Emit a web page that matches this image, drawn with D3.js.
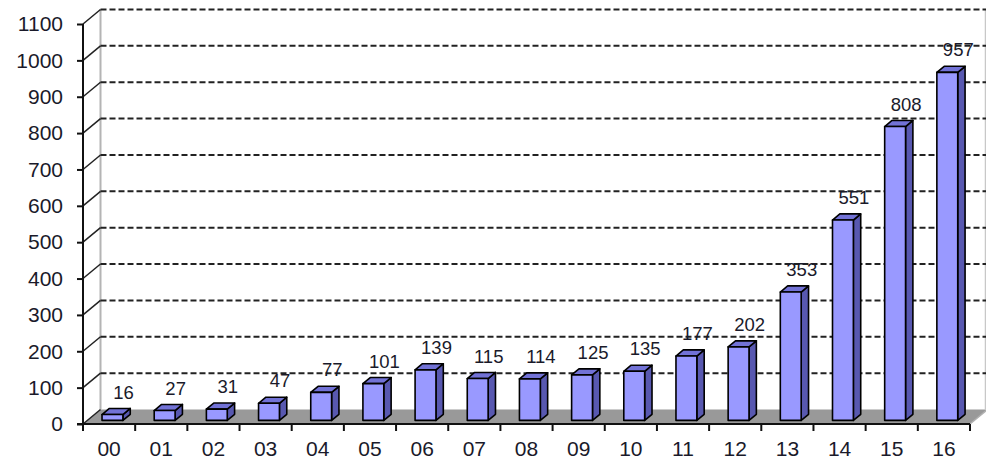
<!DOCTYPE html>
<html>
<head>
<meta charset="utf-8">
<script src="https://d3js.org/d3.v7.min.js"></script>
<style>
body { margin: 0; background: #fff; }
svg { display: block; font-family: "Liberation Sans", Arial, sans-serif; }
.axis text { fill: #1a1a2a; }
</style>
</head>
<body>
<svg></svg>
<script>

var width = 986;
var height = 461;

// data
var years = ["00", "01", "02", "03", "04", "05", "06", "07", "08", "09", "10", "11", "12", "13", "14", "15", "16"];
var counts = [16, 27, 31, 47, 77, 101, 139, 115, 114, 125, 135, 177, 202, 353, 551, 808, 957];
var yTicks = [0, 100, 200, 300, 400, 500, 600, 700, 800, 900, 1000, 1100];

var data = years.map(function (y, i) { return { year: y, value: counts[i] }; });

// 3d depth offset of the plot box
var ddx = 17.5, ddy = -14.5;
// where the bars sit in depth (fraction of box depth)
var f1 = 0.25, f2 = 0.67;

var svg = d3.select("svg").attr("width", width).attr("height", height);

var xScale = d3.scaleBand().domain(years).range([83, 970]).padding(0);
var yScale = d3.scaleLinear().domain([0, 1100]).range([424, 24]);

var x0 = xScale.range()[0], x1 = xScale.range()[1];
var yb = yScale(0), yt = yScale(1100);

// floor
svg.append("path")
  .attr("d", "M" + x0 + "," + yb + "L" + x1 + "," + yb + "L" + (x1 + ddx) + "," + (yb + ddy) + "L" + (x0 + ddx) + "," + (yb + ddy) + "Z")
  .style("fill", "#999999");
svg.append("line")
  .attr("x1", x1).attr("y1", yb).attr("x2", x1 + ddx).attr("y2", yb + ddy)
  .style("stroke", "#b0b0b0").style("stroke-width", 1.5);

// back wall edges
svg.append("line")
  .attr("x1", x0 + ddx).attr("y1", yb + ddy).attr("x2", x0 + ddx).attr("y2", yt + ddy)
  .style("stroke", "#b4b4b4").style("stroke-width", 2);
svg.append("line")
  .attr("x1", x1 + ddx - 2).attr("y1", yb + ddy).attr("x2", x1 + ddx - 2).attr("y2", yt + ddy)
  .style("stroke", "#c8c8c8").style("stroke-width", 1.5);

// gridlines: dashed on the back wall, diagonal on the left wall
var grid = svg.append("g");
grid.selectAll("line.back").data(yTicks.filter(function (d) { return d > 0; })).enter().append("line")
  .attr("class", "back")
  .attr("x1", x0 + ddx).attr("x2", x1 + ddx)
  .attr("y1", function (d) { return yScale(d) + ddy; })
  .attr("y2", function (d) { return yScale(d) + ddy; })
  .style("stroke", "#222").style("stroke-width", 2).style("stroke-dasharray", "6,3");
grid.selectAll("line.side").data(yTicks).enter().append("line")
  .attr("class", "side")
  .attr("x1", x0).attr("x2", x0 + ddx)
  .attr("y1", function (d) { return yScale(d); })
  .attr("y2", function (d) { return yScale(d) + ddy; })
  .style("stroke", "#222").style("stroke-width", 1.5);

// bars
var bw = xScale.bandwidth() * 0.4;
var bdx = ddx * (f2 - f1), bdy = ddy * (f2 - f1);
function fx(d) { return xScale(d.year) + xScale.bandwidth() / 2 - bw / 2 + ddx * f1 - 1; }
function fy(d) { return yScale(d.value) + ddy * f1; }
function fb() { return yScale(0) + ddy * f1; }

var bars = svg.append("g").selectAll("g").data(data).enter().append("g")
  .style("stroke", "#000").style("stroke-width", 1.6).style("stroke-linejoin", "round");

bars.append("path")
  .attr("d", function (d) {
    var x = fx(d) + bw, t = fy(d), b = fb();
    return "M" + x + "," + b + "L" + x + "," + t + "L" + (x + bdx) + "," + (t + bdy) + "L" + (x + bdx) + "," + (b + bdy) + "Z";
  })
  .style("fill", "#5858b0");
bars.append("path")
  .attr("d", function (d) {
    var x = fx(d), t = fy(d);
    return "M" + x + "," + t + "L" + (x + bw) + "," + t + "L" + (x + bw + bdx) + "," + (t + bdy) + "L" + (x + bdx) + "," + (t + bdy) + "Z";
  })
  .style("fill", "#7272d6");
bars.append("rect")
  .attr("x", fx)
  .attr("y", fy)
  .attr("width", bw)
  .attr("height", function (d) { return fb() - fy(d); })
  .style("fill", "#9999ff");

// value labels
svg.append("g").selectAll("text").data(data).enter().append("text")
  .attr("x", function (d) { return fx(d) + bw / 2 + 11; })
  .attr("y", function (d) { return fy(d) - 16; })
  .attr("text-anchor", "middle")
  .style("font-size", "18.5px")
  .style("fill", "#1a1a2a")
  .text(function (d) { return d.value; });

// y axis
var yAxis = d3.axisLeft(yScale).tickValues(yTicks).tickFormat(d3.format("d")).tickSize(6).tickPadding(14);
var yg = svg.append("g").attr("class", "axis").attr("transform", "translate(" + x0 + ",0)").call(yAxis);
yg.select(".domain").remove();
yg.selectAll(".tick line").style("stroke", "#111").style("stroke-width", 2);
yg.selectAll("text").style("font-size", "21px").style("font-family", "Liberation Sans, Arial, sans-serif");
svg.append("line")
  .attr("x1", x0).attr("x2", x0).attr("y1", yt).attr("y2", yb)
  .style("stroke", "#111").style("stroke-width", 2);

// x axis: ticks on band edges, labels in the middle
var xAxis = d3.axisBottom(xScale).tickSize(0).tickPadding(17);
var xg = svg.append("g").attr("class", "axis").attr("transform", "translate(0," + yb + ")").call(xAxis);
xg.select(".domain").remove();
xg.selectAll("text").style("font-size", "21px").style("font-family", "Liberation Sans, Arial, sans-serif");
var edges = years.map(function (y) { return xScale(y); }).concat([x1]);
svg.append("g").selectAll("line").data(edges).enter().append("line")
  .attr("x1", function (d) { return d; }).attr("x2", function (d) { return d; })
  .attr("y1", yb).attr("y2", yb + 7)
  .style("stroke", "#111").style("stroke-width", 2);
svg.append("line")
  .attr("x1", x0 - 6).attr("x2", x1).attr("y1", yb).attr("y2", yb)
  .style("stroke", "#111").style("stroke-width", 2);

</script>
</body>
</html>
